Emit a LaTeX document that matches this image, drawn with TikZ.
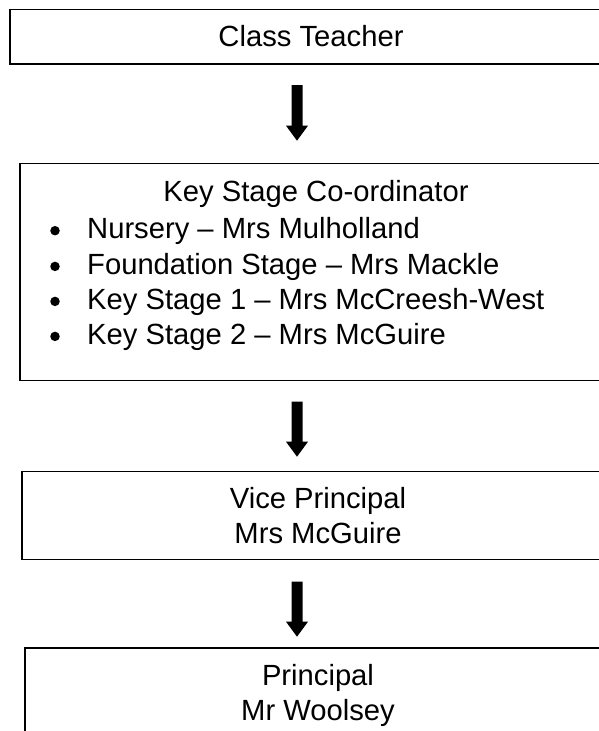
\documentclass[tikz,border=0pt]{standalone}
\usepackage{fontspec}
\setmainfont{Liberation Sans}
\usetikzlibrary{calc}
\tikzset{
  boxnode/.style={draw, line width=1.5pt, rectangle, inner sep=0pt, outer sep=0pt, anchor=north west},
  txt/.style={inner sep=0pt, anchor=base, font=\fontsize{29.2pt}{35pt}\selectfont},
  itemtxt/.style={txt, anchor=base west},
  bulletdot/.style={circle, fill, inner sep=0pt, minimum size=9.5pt},
  blockarrow/.style={to path={let \p1=(\tikztostart), \p2=(\tikztotarget) in
    (\x1-5.5pt,\y1) -- (\x1+5.5pt,\y1) -- (\x1+5.5pt,\y2+15pt) -- (\x1+11pt,\y2+15pt)
    -- (\x2,\y2) -- (\x1-11pt,\y2+15pt) -- (\x1-5.5pt,\y2+15pt) -- cycle}}
}
\begin{document}
\begin{tikzpicture}[x=1pt,y=-1pt]
\useasboundingbox[fill=white] (0,0) rectangle (599,731);
% boxes
\node[boxnode, minimum width=602pt, minimum height=54.7pt] (ct) at (10,9.3) {};
\node[boxnode, minimum width=592pt, minimum height=217.2pt] (ksc) at (20,163.3) {};
\node[boxnode, minimum width=590pt, minimum height=87.8pt] (vp) at (22,471.7) {};
\node[boxnode, minimum width=587pt, minimum height=100pt] (pr) at (25,648) {};
% texts
\node[txt] (ctl) at (311,46.7) {Class Teacher};
\node[txt] (kscl) at (316,201.7) {Key Stage Co-ordinator};
\node[bulletdot] (b1) at (55,230.7) {};
\node[bulletdot] (b2) at (55,266.4) {};
\node[bulletdot] (b3) at (55,301.4) {};
\node[bulletdot] (b4) at (55,336.4) {};
\node[itemtxt] (i1) at (87,238.3) {Nursery – Mrs Mulholland};
\node[itemtxt] (i2) at (87,274) {Foundation Stage – Mrs Mackle};
\node[itemtxt] (i3) at (87,309) {Key Stage 1 – Mrs McCreesh-West};
\node[itemtxt] (i4) at (87,344) {Key Stage 2 – Mrs McGuire};
\node[txt] (vpl1) at (318,508.3) {Vice Principal};
\node[txt] (vpl2) at (318,543.3) {Mrs McGuire};
\node[txt] (prl1) at (318,685) {Principal};
\node[txt] (prl2) at (318,720) {Mr Woolsey};
% arrows
\coordinate (ax) at (297,0);
\path (ax |- ct.south) ++(0,21) coordinate (a1s);
\path (ax |- ksc.north) ++(0,-22.6) coordinate (a1e);
\path (ax |- ksc.south) ++(0,21.2) coordinate (a2s);
\path (ax |- vp.north) ++(0,-15) coordinate (a2e);
\path (ax |- vp.south) ++(0,22.2) coordinate (a3s);
\path (ax |- pr.north) ++(0,-11.3) coordinate (a3e);
\fill (a1s) to[blockarrow] (a1e);
\fill (a2s) to[blockarrow] (a2e);
\fill (a3s) to[blockarrow] (a3e);
\end{tikzpicture}
\end{document}
